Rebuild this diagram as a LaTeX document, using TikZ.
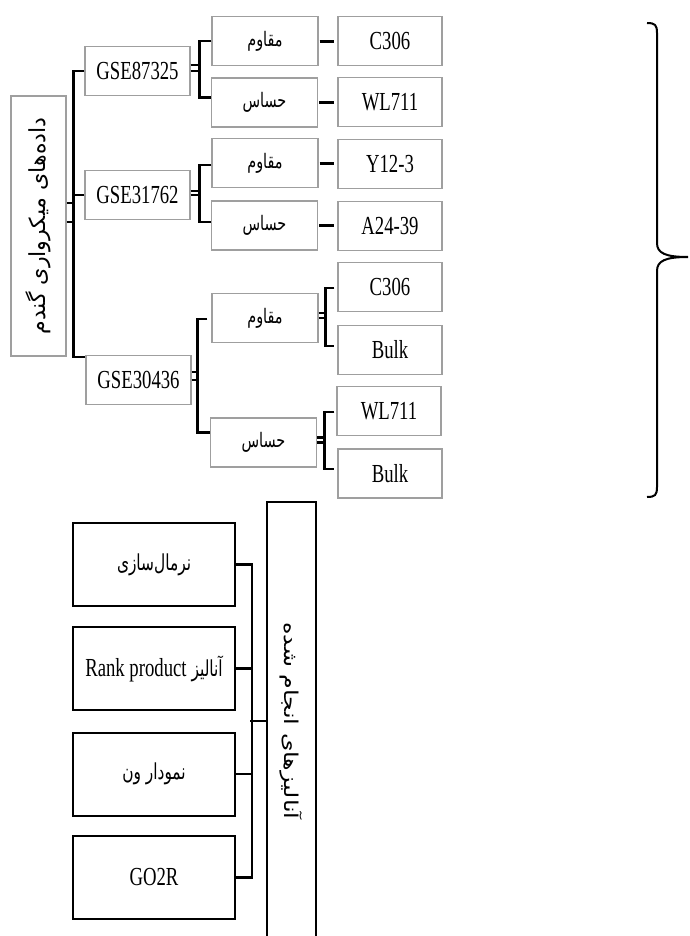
\documentclass[tikz,border=0pt]{standalone}
\usepackage{graphicx}
\usepackage{fontspec}
\setmainfont{Liberation Serif}
\newfontfamily\arabicfont[Script=Arabic]{DejaVu Sans}
\TeXXeTstate=1
\usetikzlibrary{calc}
\newcommand{\myfa}[4][20]{\scalebox{#2}[#3]{\fontsize{#1}{#1}\arabicfont #4}}
\newcommand{\mylat}[1]{\scalebox{0.72}[1]{\fontsize{26}{26}\rmfamily\selectfont #1}}
\tikzset{
  gbox/.style={draw=gray!75, line width=1.1pt, inner sep=0pt, minimum width=105pt, minimum height=49pt},
  bbox/.style={draw=black, line width=2pt, inner sep=0pt, minimum width=162pt, minimum height=83pt},
  conn/.style={line width=2.2pt, black},
}
\begin{document}
\begin{tikzpicture}[x=1pt,y=-1pt]
\useasboundingbox (0,0) rectangle (689,936);
% left root
\node[gbox, minimum width=55pt, minimum height=260pt] (L) at (38.5,226) {\rotatebox{90}{\myfa[26]{0.85}{0.85}{\beginR داده‌های میکرواری گندم\endR}}};
% GSE boxes
\node[gbox] (G1) at (137.5,71) {\mylat{GSE87325}};
\node[gbox] (G2) at (137.5,195) {\mylat{GSE31762}};
\node[gbox] (G3) at (138.5,380) {\mylat{GSE30436}};
% middle boxes
\node[gbox, minimum width=106pt] (M1) at (265,41) {\myfa{0.72}{1}{\beginR مقاوم\endR}};
\node[gbox, minimum width=106pt] (M2) at (264.5,102.5) {\myfa{0.72}{1}{\beginR حساس\endR}};
\node[gbox, minimum width=106pt] (M3) at (265,163) {\myfa{0.72}{1}{\beginR مقاوم\endR}};
\node[gbox, minimum width=106pt] (M4) at (264.5,225.5) {\myfa{0.72}{1}{\beginR حساس\endR}};
\node[gbox, minimum width=106pt] (M5) at (265,318) {\myfa{0.72}{1}{\beginR مقاوم\endR}};
\node[gbox, minimum width=106pt] (M6) at (263.5,442.5) {\myfa{0.72}{1}{\beginR حساس\endR}};
% right boxes
\node[gbox, minimum width=104pt] (R1) at (390,41) {\mylat{C306}};
\node[gbox, minimum width=104pt] (R2) at (390,102) {\mylat{WL711}};
\node[gbox, minimum width=104pt] (R3) at (390,164) {\mylat{Y12-3}};
\node[gbox, minimum width=104pt] (R4) at (390,226) {\mylat{A24-39}};
\node[gbox, minimum width=104pt] (R5) at (390,287) {\mylat{C306}};
\node[gbox, minimum width=104pt] (R6) at (390,350) {\mylat{Bulk}};
\node[gbox, minimum width=104pt] (R7) at (389,411) {\mylat{WL711}};
\node[gbox, minimum width=104pt] (R8) at (390,473.5) {\mylat{Bulk}};
% root brackets
\draw[conn] ($(L.east)+(0,-23)$) -- ++(8,0);
\draw[conn] ($(L.east)+(0,-4)$) -- ++(8,0);
\draw[conn] (G1.west) -- ++(-11,0) |- ($(G3.north west)+(0,2)$);
\draw[conn] (G2.west) -- ++(-11,0);
% GSE brackets
\draw[conn] (G1.east) -- ++(10,0);
\draw[conn] ($(G1.east)+(0,-6)$) -- ++(10,0);
\draw[conn] (M1.west) -- ++(-12,0) |- ($(M2.west)+(0,-5)$);
\draw[conn] (G2.east) -- ++(10,0);
\draw[conn] ($(G2.east)+(0,-4)$) -- ++(10,0);
\draw[conn] ($(M3.west)+(0,2)$) -- ++(-12,0) |- ($(M4.west)+(0,-3.5)$);
\draw[conn] (G3.east) -- ++(7,0);
\draw[conn] ($(G3.east)+(0,-8)$) -- ++(7,0);
\draw[conn] ($(M5.west)+(-4,1)$) -- ++(-10,0) |- ($(M6.west)+(0,-10)$);
% middle to right
\draw[conn] ($(M1.east)+(1,0.5)$) -- ($(M1.east -| R1.west)+(-3,0.5)$);
\draw[conn] ($(M2.east)+(1,0)$) -- ($(M2.east -| R2.west)+(-3,0)$);
\draw[conn] ($(M3.east)+(1,0.5)$) -- ($(M3.east -| R3.west)+(-3,0.5)$);
\draw[conn] ($(M4.east)+(1,0)$) -- ($(M4.east -| R4.west)+(-3,0)$);
\draw[conn] (M5.east) -- ++(8,0);
\draw[conn] ($(M5.east)+(0,-5)$) -- ++(8,0);
\draw[conn] ($(R5.west)+(-3,1)$) -- ++(-9,0) |- ($(R6.west)+(-3,-4)$);
\draw[conn] (M6.east) -- ++(9,0);
\draw[conn] ($(M6.east)+(0,-5)$) -- ++(9,0);
\draw[conn] ($(R7.west)+(-2,1)$) -- ++(-10,0) |- ($(R8.west)+(-3,-4.5)$);
% brace
\draw[line width=2pt] (647,23) .. controls (655,23) and (657,25) .. (657,33) -- (657,243)
  .. controls (657,253) and (665,257) .. (688,257)
  .. controls (665,257) and (657,261) .. (657,271) -- (657,487)
  .. controls (657,495) and (655,497) .. (647,497);
% bottom part
\node[draw=black, line width=2pt, inner sep=0pt, minimum width=49pt, minimum height=443pt] (T) at (291.5,723.5) {};
\node (Tt) at (291.5,721) {\rotatebox{-90}{\myfa[28]{0.85}{0.68}{\beginR آنالیزهای انجام شده\endR}}};
\node[bbox] (B1) at (154,564.5) {\myfa[22]{0.7}{1}{\beginR نرمال‌سازی\endR}};
\node[bbox] (B2) at (154,668.5) {\mylat{Rank product}\hspace{5pt}\myfa[22]{0.7}{1}{\beginR آنالیز\endR}};
\node[bbox] (B3) at (154,774) {\myfa[22]{0.7}{1}{\beginR نمودار ون\endR}};
\node[bbox] (B4) at (154,877.5) {\mylat{GO2R}};
\draw[conn] (B1.east) -- ++(16,0) |- (B4.east);
\draw[conn] (B2.east) -- ++(16,0);
\draw[conn] (B3.east) -- ++(16,0);
\coordinate (mid) at ($(B2.east)!0.5!(B3.east)$);
\draw[conn] (mid -| T.west) -- ++(-16,0);
\end{tikzpicture}
\end{document}
